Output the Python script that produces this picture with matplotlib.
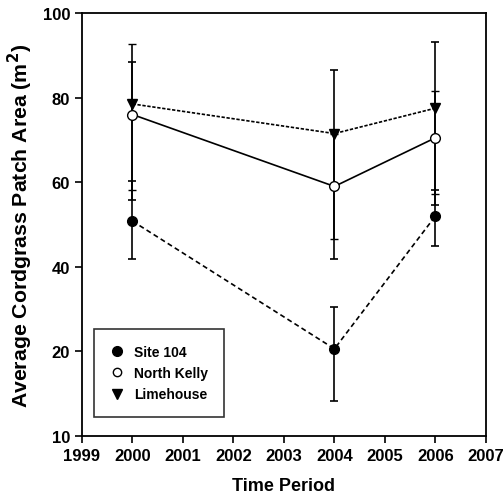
import matplotlib
matplotlib.use('Agg')
import matplotlib.pyplot as plt
from matplotlib.lines import Line2D
import numpy as np

plt.rcParams['font.family'] = ['Liberation Sans', 'DejaVu Sans']
plt.rcParams['font.weight'] = 'bold'

years = [2000, 2004, 2006]

# mean patch area and error bar ends
site104 = [50.8, 20.6, 52.0]
site104_lo = [41.8, 8.2, 45.0]
site104_hi = [60.4, 30.4, 58.2]

north_kelly = [76.0, 59.0, 70.5]
north_kelly_lo = [58.2, 46.6, 57.1]
north_kelly_hi = [92.7, 71.5, 81.6]

limehouse = [78.5, 71.5, 77.5]
limehouse_lo = [55.9, 41.8, 54.7]
limehouse_hi = [88.5, 86.6, 93.2]

xticks = list(range(1999, 2008))
yticks = [0, 20, 40, 60, 80, 100]
ytick_labels = ['10', '20', '40', '60', '80', '100']
labels = ['Site 104', 'North Kelly', 'Limehouse']


def err(mean, lo, hi):
    m = np.array(mean)
    return [m - np.array(lo), np.array(hi) - m]


fig = plt.figure(figsize=(5.03, 5.02), dpi=100)
ax = fig.add_axes([0.163, 0.1295, 0.803, 0.8426])

ebkw = dict(ecolor='black', elinewidth=1.2, capsize=2.8, capthick=1.2, color='black')

ax.errorbar(years, site104, yerr=err(site104, site104_lo, site104_hi),
            fmt='o', ls=(0, (3, 2)), lw=1.2, ms=7, mfc='black', mec='black',
            zorder=3, **ebkw)
ax.errorbar(years, north_kelly, yerr=err(north_kelly, north_kelly_lo, north_kelly_hi),
            fmt='o', ls='-', lw=1.2, ms=7, mfc='white', mec='black', mew=1.0,
            zorder=3, **ebkw)
ax.errorbar(years, limehouse, yerr=err(limehouse, limehouse_lo, limehouse_hi),
            fmt='v', ls=(0, (2, 1)), lw=1.2, ms=7, mfc='black', mec='black',
            zorder=3, **ebkw)

ax.set_xlim(1999, 2007)
ax.set_ylim(0, 100)
ax.set_xticks(xticks)
ax.set_yticks(yticks)
ax.set_yticklabels(ytick_labels)
ax.tick_params(axis='both', direction='out', length=5, width=1.2,
               labelsize=12, colors='black')
ax.tick_params(axis='x', pad=4)
for s in ax.spines.values():
    s.set_linewidth(1.3)

ax.set_xlabel('Time Period', fontsize=13, fontweight='bold')
ax.set_ylabel('Average Cordgrass Patch Area (m$^\\mathbf{2}$)', fontsize=15.3,
              fontweight='bold')
ax.xaxis.set_label_coords(0.5, -0.097)
ax.yaxis.set_label_coords(-0.117, 0.5)

leg_handles = [
    Line2D([], [], ls='none', marker='o', ms=7, mfc='black', mec='black'),
    Line2D([], [], ls='none', marker='o', ms=6, mfc='white', mec='black'),
    Line2D([], [], ls='none', marker='v', ms=7, mfc='black', mec='black'),
]
leg = ax.legend(leg_handles, labels, loc='upper left', bbox_to_anchor=(0.0297, 0.253),
                fontsize=10, frameon=True, fancybox=False, edgecolor='black',
                handlelength=1.0, handletextpad=0.75, borderpad=1.15,
                labelspacing=0.52, borderaxespad=0)
leg.get_frame().set_linewidth(1.2)

fig.savefig('out.png', dpi=100)
